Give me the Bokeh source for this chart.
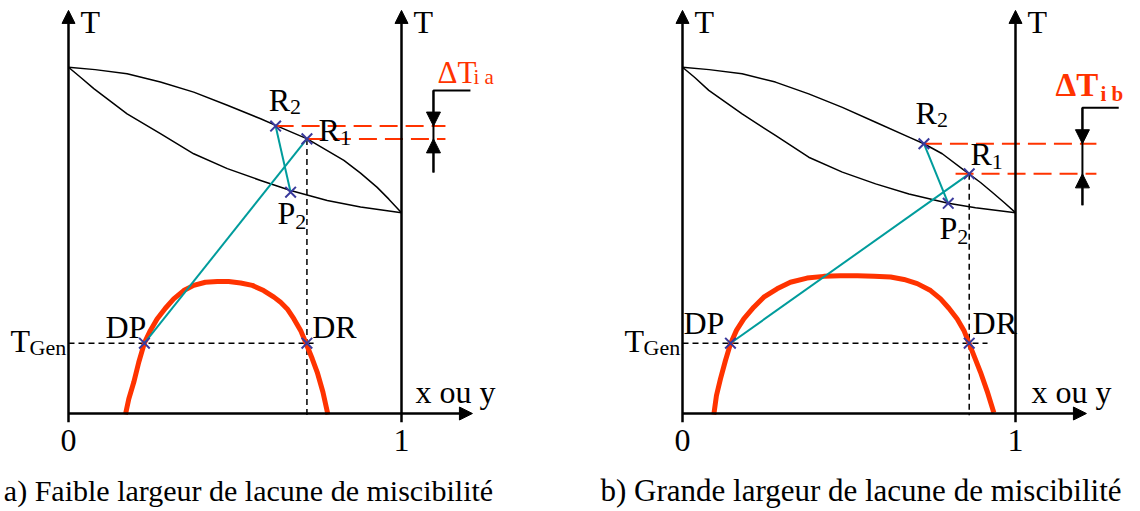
from bokeh.plotting import figure
from bokeh.layouts import row
from bokeh.models import Arrow, NormalHead, Range1d
from bokeh.core.properties import value
from bokeh.embed import file_html
from bokeh.resources import INLINE

# ---------------- data (x = mole fraction, T = relative temperature) ----------
# panel a : small miscibility gap
x_dew_a = [0.0, 0.08, 0.176, 0.276, 0.376, 0.477, 0.577, 0.622, 0.717, 0.827, 0.877, 0.927, 0.962, 1.0]
T_dew_a = [100.0, 99.3, 98.1, 95.7, 92.8, 89.0, 85.1, 83.2, 79.3, 73.1, 69.4, 65.3, 61.9, 58.0]
x_bub_a = [0.0, 0.036, 0.076, 0.176, 0.276, 0.376, 0.477, 0.577, 0.667, 0.777, 0.877, 1.0]
T_bub_a = [100.0, 97.1, 93.8, 86.5, 80.8, 75.0, 70.7, 67.3, 64.4, 61.5, 59.6, 58.0]
x_gap_a = [0.171, 0.181, 0.196, 0.211, 0.228, 0.246, 0.266, 0.291, 0.316, 0.346, 0.376,
           0.411, 0.447, 0.481, 0.517, 0.552, 0.586, 0.617, 0.637, 0.657, 0.677, 0.697,
           0.712, 0.732, 0.747, 0.764, 0.779]
T_gap_a = [-0.3, 4.2, 9.0, 14.8, 20.4, 24.0, 27.3, 30.4, 33.1, 35.5, 37.0,
           37.9, 38.1, 38.1, 37.7, 37.0, 35.5, 33.6, 32.1, 30.2, 27.3, 24.0,
           20.6, 15.8, 11.9, 6.2, -0.3]
pt_names = ["R2", "R1", "P2", "DP", "DR"]
pt_x_a = [0.622, 0.716, 0.667, 0.228, 0.716]
pt_T_a = [83.0, 79.3, 63.9, 20.3, 20.3]

# panel b : large miscibility gap
x_dew_b = [0.0, 0.08, 0.179, 0.279, 0.379, 0.480, 0.580, 0.680, 0.725, 0.780, 0.860, 0.895, 0.930, 0.965, 1.0]
T_dew_b = [100.0, 99.3, 98.1, 95.7, 92.3, 88.4, 84.1, 79.8, 77.9, 75.0, 69.2, 66.7, 63.9, 61.0, 58.0]
x_bub_b = [0.0, 0.036, 0.079, 0.179, 0.279, 0.379, 0.480, 0.580, 0.680, 0.798, 0.880, 1.0]
T_bub_b = [100.0, 97.1, 93.3, 86.5, 80.3, 74.0, 69.7, 66.3, 63.4, 60.7, 59.4, 58.0]
x_gap_b = [0.094, 0.102, 0.114, 0.129, 0.144, 0.162, 0.184, 0.214, 0.244, 0.284, 0.324,
           0.374, 0.424, 0.474, 0.525, 0.575, 0.625, 0.665, 0.705, 0.745, 0.775, 0.800,
           0.825, 0.845, 0.860, 0.877, 0.895, 0.915, 0.935]
T_gap_b = [-0.3, 5.2, 10.0, 15.3, 20.1, 24.0, 27.3, 30.7, 33.6, 36.0, 37.9,
           39.1, 39.6, 39.8, 39.8, 39.6, 39.4, 38.7, 37.5, 35.5, 33.1, 30.4,
           27.3, 24.0, 20.4, 16.3, 11.9, 6.4, 0.2]
pt_x_b = [0.725, 0.861, 0.798, 0.144, 0.861]
pt_T_b = [77.9, 69.2, 60.7, 20.3, 20.3]

tick_labels = ["0", "1"]
captions = ["a) Faible largeur de lacune de miscibilité",
            "b) Grande largeur de lacune de miscibilité"]

FONT = "Liberation Serif"
RED = "#ff3300"
TEAL = "#009c9c"
BLUE = "#3a3a9c"
W, H = 570, 511
PX = 333.0      # px per x unit
PY = 3.463      # px per T unit
BASE = 413      # px from top of the baseline


def txt(p, x, y, s, size=32, color="black", align="left", style="normal"):
    # y is the wanted alphabetic baseline; the renderer centres text vertically,
    # so lift the anchor by roughly half a cap height.
    y_anchor = y + 0.32 * size / PY
    p.text(x=[x], y=[y_anchor], text=[s], text_font=value(FONT),
           text_font_size=f"{size}px", text_color=color, text_align=align,
           text_baseline="alphabetic", text_font_style=style)


def panel(origin_px, x_dew, T_dew, x_bub, T_bub, x_gap, T_gap, pt_x, pt_T, cfg):
    p = figure(width=W, height=H, output_backend="svg", toolbar_location=None,
               x_axis_type=None, y_axis_type=None,
               x_range=Range1d(-origin_px / PX, (W - origin_px) / PX),
               y_range=Range1d((BASE - H) / PY, BASE / PY),
               min_border=0, outline_line_color=None)
    p.grid.visible = False
    p.background_fill_color = "white"
    p.border_fill_color = "white"

    # axes
    ax_top = 116.4
    for xa in (0.0, 1.0):
        p.add_layout(Arrow(end=NormalHead(size=13, fill_color="black", line_color="black"),
                           x_start=xa, y_start=-2.5, x_end=xa, y_end=ax_top,
                           line_width=2.5, line_color="black"))
    p.add_layout(Arrow(end=NormalHead(size=13, fill_color="black", line_color="black"),
                       x_start=0.0, y_start=0.0, x_end=1.213, y_end=0.0,
                       line_width=2.5, line_color="black"))

    # lens (dew / bubble curves)
    p.line(x_dew, T_dew, line_color="black", line_width=1.5, line_join="round")
    p.line(x_bub, T_bub, line_color="black", line_width=1.5, line_join="round")

    R2x, R1x, P2x, DPx, DRx = pt_x
    R2T, R1T, P2T, DPT, DRT = pt_T

    # black dashed guides
    p.line([0.0, cfg["tgen_end"]], [DPT, DPT], line_color="black", line_width=1.5,
           line_dash="6 4")
    p.line([R1x, R1x], [R1T, -0.5], line_color="black", line_width=1.5, line_dash="6 4")

    # miscibility gap
    p.line(x_gap, T_gap, line_color=RED, line_width=5, line_join="round")

    # tie lines
    p.line([DPx, R1x], [DPT, R1T], line_color=TEAL, line_width=2)
    p.line([R2x, P2x], [R2T, P2T], line_color=TEAL, line_width=2)

    # red dashed levels
    p.line([R2x, cfg["red_end"]], [R2T, R2T], line_color=RED, line_width=2, line_dash="18 8")
    p.line([cfg["red2_start"], cfg["red_end"]], [R1T, R1T], line_color=RED, line_width=2,
           line_dash="18 8")

    # Delta T dimension arrows
    xa, top, bot, hend = cfg["dx"], cfg["dtop"], cfg["dbot"], cfg["dhend"]
    p.line([hend, xa, xa], [top, top, bot], line_color="black", line_width=2)
    p.add_layout(Arrow(end=NormalHead(size=14, fill_color="black", line_color="black"),
                       x_start=xa, y_start=top, x_end=xa, y_end=R2T,
                       line_width=2, line_color="black"))
    p.add_layout(Arrow(end=NormalHead(size=14, fill_color="black", line_color="black"),
                       x_start=xa, y_start=bot, x_end=xa, y_end=R1T,
                       line_width=2, line_color="black"))

    # markers
    p.scatter(pt_x, pt_T, marker="x", size=15, line_color=BLUE, line_width=2)

    # labels
    txt(p, 12 / PX, 110.0, "T")
    txt(p, 1 + 12 / PX, 110.0, "T")
    for (lx, ly, main, sub, sdx, sdy) in cfg["labels"]:
        txt(p, lx, ly, main)
        if sub:
            txt(p, lx + sdx, ly + sdy, sub, size=22)
    txt(p, -58 / PX, 18.0, "T")
    txt(p, -39 / PX, 17.0, "Gen", size=22)
    txt(p, 1 + cfg["xou_dx"], 3.3, "x ou y")
    txt(p, 0.0, -10.7, tick_labels[0], align="center")
    txt(p, 1.0, -10.7, tick_labels[1], align="center")
    txt(p, cfg["cap_x"], -25.1, cfg["caption"], size=cfg["cap_size"], align="center")

    # Delta T label
    st = cfg["dstyle"]
    txt(p, cfg["dlx"], cfg["dly"], "\u0394T", size=cfg["dsize"], color=RED, style=st)
    txt(p, cfg["dsx"], cfg["dsy"], cfg["dsub"], size=21, color=RED, style=st)
    return p


cfg_a = dict(
    tgen_end=0.736, red_end=1.132, red2_start=pt_x_a[1],
    dx=1.096, dtop=93.3, dbot=69.6, dhend=1.207,
    labels=[(0.601, 87.5, "R", "2", 0.064, -0.9),
            (0.751, 78.8, "R", "1", 0.064, -1.4),
            (0.628, 54.9, "P", "2", 0.053, -1.5),
            (0.111, 22.0, "DP", None, 0, 0),
            (0.732, 22.0, "DR", None, 0, 0)],
    xou_dx=0.042, cap_x=0.5405, cap_size=30, caption=captions[0],
    dstyle="normal", dsize=31, dlx=1.108, dly=95.6,
    dsx=1.216, dsy=95.3, dsub="i  a",
)
cfg_b = dict(
    tgen_end=0.916, red_end=1.243, red2_start=0.820,
    dx=1.201, dtop=88.3, dbot=60.1, dhend=1.310,
    labels=[(0.700, 83.7, "R", "2", 0.064, -0.9),
            (0.865, 71.9, "R", "1", 0.064, -1.4),
            (0.772, 50.5, "P", "2", 0.053, -1.5),
            (0.003, 23.1, "DP", None, 0, 0),
            (0.871, 23.1, "DR", None, 0, 0)],
    xou_dx=0.048, cap_x=0.536, cap_size=31, caption=captions[1],
    dstyle="bold", dsize=33, dlx=1.120, dly=91.8,
    dsx=1.255, dsy=90.4, dsub="i  b",
)

pa = panel(68, x_dew_a, T_dew_a, x_bub_a, T_bub_a, x_gap_a, T_gap_a, pt_x_a, pt_T_a, cfg_a)
pb = panel(112, x_dew_b, T_dew_b, x_bub_b, T_bub_b, x_gap_b, T_gap_b, pt_x_b, pt_T_b, cfg_b)

layout = row(pa, pb, spacing=0)
open("out.html", "w").write(file_html(layout, INLINE))
